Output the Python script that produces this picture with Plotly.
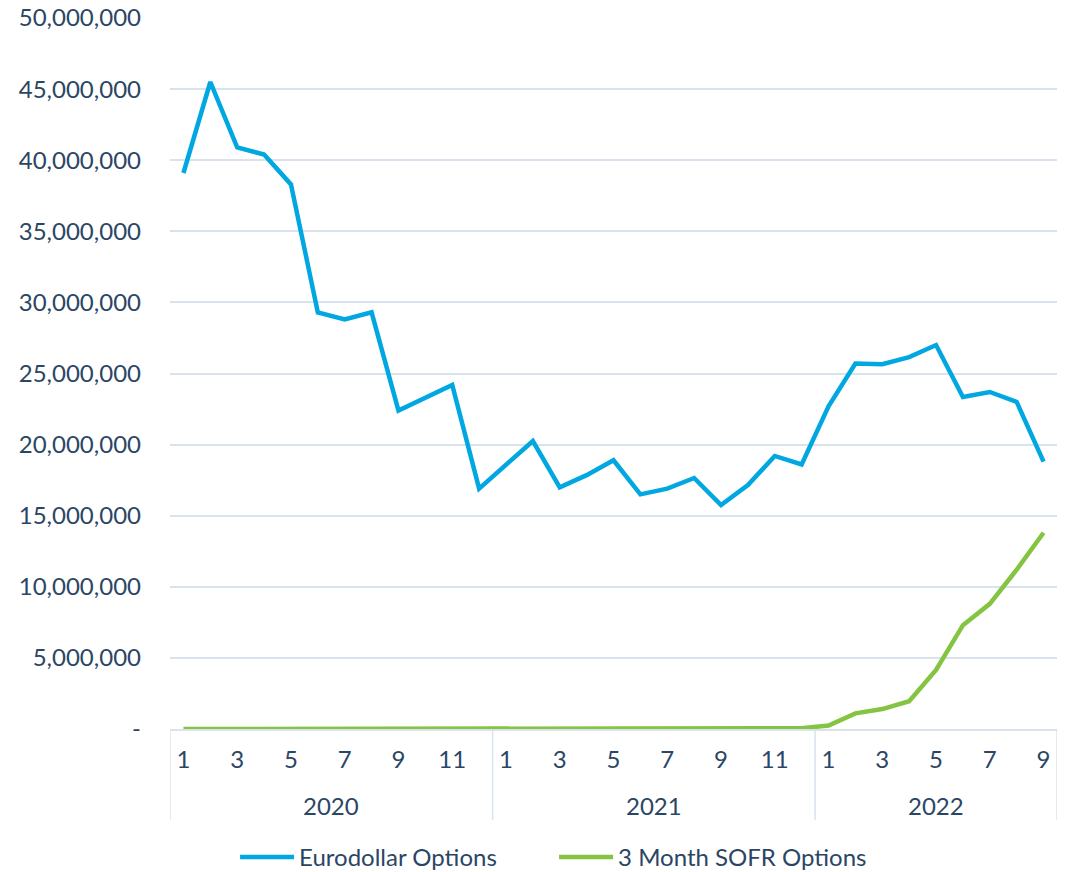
import plotly.graph_objects as go

years = ["2020", "2021", "2022"]
months_per_year = [12, 12, 9]
month_labels = [m for n in months_per_year for m in range(1, n + 1)]

eurodollar = [
    39.1, 45.5, 40.9, 40.4, 38.3, 29.3, 28.8, 29.3, 22.4, 23.3, 24.2, 16.9,
    18.6, 20.25, 17.0, 17.85, 18.9, 16.5, 16.9, 17.65, 15.75, 17.15, 19.2, 18.6,
    22.7, 25.7, 25.65, 26.15, 27.0, 23.35, 23.7, 23.0, 18.8,
]
eurodollar = [v * 1e6 for v in eurodollar]

sofr = [
    0, 0, 0, 0, 0, 0, 0, 0, 0, 0, 0, 0,
    0.05, 0.05, 0.05, 0.05, 0.05, 0.05, 0.05, 0.05, 0.03, 0.03, 0.03, 0.05,
    0.25, 1.1, 1.4, 1.95, 4.15, 7.3, 8.8, 11.2, 13.8,
]
sofr = [v * 1e6 for v in sofr]

y_ticks = list(range(0, 50_000_001, 5_000_000))
y_ticktext = ["-"] + [f"{v:,}" for v in y_ticks[1:]]

x_idx = list(range(len(month_labels)))
odd_idx = [i for i, m in zip(x_idx, month_labels) if m % 2 == 1]
odd_text = [str(month_labels[i]) for i in odd_idx]

FONT = "Lato, 'Open Sans', sans-serif"
TXT = "#2B4665"
GRID = "#D9E3EE"
FS = 24

fig = go.Figure()
fig.add_trace(go.Scatter(x=x_idx, y=eurodollar, mode="lines", name="Eurodollar Options",
                         line=dict(color="#00A7E1", width=4.5)))
fig.add_trace(go.Scatter(x=x_idx, y=sofr, mode="lines", name="3 Month SOFR Options",
                         line=dict(color="#84C440", width=4.5)))

# year group dividers and labels
bounds = [-0.5]
for n in months_per_year:
    bounds.append(bounds[-1] + n)
shapes = []
for b in bounds:
    shapes.append(dict(type="line", xref="x", yref="paper", x0=b, x1=b, y0=0, y1=-0.128,
                       line=dict(color=GRID, width=1.5), layer="below"))
annotations = []
for i, yname in enumerate(years):
    annotations.append(dict(x=(bounds[i] + bounds[i + 1]) / 2, xref="x", y=-0.108, yref="paper",
                            text=yname, showarrow=False, xanchor="center", yanchor="middle",
                            font=dict(family=FONT, size=FS, color=TXT)))

fig.update_layout(
    width=1058, height=864,
    margin=dict(l=162, r=9, t=10, b=143, autoexpand=False),
    paper_bgcolor="white", plot_bgcolor="white",
    font=dict(family=FONT, size=FS, color=TXT),
    showlegend=True,
    legend=dict(orientation="h", x=0.433, xanchor="center", y=-0.1805, yanchor="middle",
                font=dict(family=FONT, size=FS, color=TXT), traceorder="normal",
                itemwidth=54, entrywidth=250, entrywidthmode="pixels"),
    shapes=shapes, annotations=annotations,
    xaxis=dict(range=[-0.5, 32.5], tickvals=odd_idx, ticktext=odd_text, showgrid=False,
               zeroline=False, showline=True, linecolor=GRID, linewidth=1.5,
               ticks="", ticklabelstandoff=8, automargin=False,
               tickfont=dict(size=FS, color=TXT)),
    yaxis=dict(range=[0, 50_000_000], tickvals=y_ticks, ticktext=y_ticktext, showgrid=True,
               gridcolor=GRID, gridwidth=1.5, zeroline=False, showline=False,
               ticks="", ticklabelstandoff=28, automargin=False, ticklabeloverflow="allow",
               tickfont=dict(size=FS, color=TXT)),
)

fig.write_html("out.html")
